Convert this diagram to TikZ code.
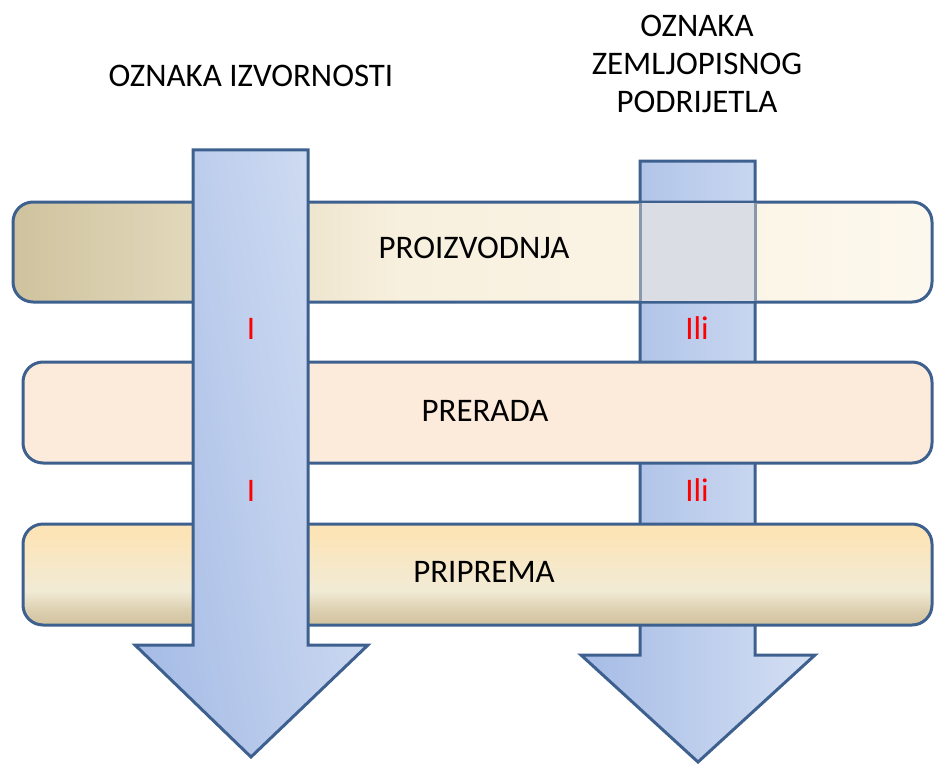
\documentclass[tikz,border=0pt]{standalone}
\usepackage{fontspec}
\setmainfont{Carlito}
\usetikzlibrary{calc}

\definecolor{rub}{RGB}{61,96,143}
\definecolor{arrA}{RGB}{166,188,230}
\definecolor{arrB}{RGB}{212,223,243}
\definecolor{proizA}{RGB}{207,194,158}
\definecolor{proizB}{RGB}{226,217,188}
\definecolor{proizC}{RGB}{248,240,222}
\definecolor{proizD}{RGB}{253,248,237}
\definecolor{prerFill}{RGB}{252,234,219}
\definecolor{pripTop}{RGB}{253,228,183}
\definecolor{pripMid}{RGB}{241,235,214}
\definecolor{pripLow}{RGB}{221,209,178}
\definecolor{pripBot}{RGB}{210,194,158}
\definecolor{preklop}{RGB}{218,221,227}
\definecolor{preklopLine}{RGB}{136,152,170}

\pgfdeclarehorizontalshading{proizshade}{100bp}{color(0bp)=(proizA); color(25bp)=(proizA); color(35bp)=(proizB); color(46bp)=(proizC); color(75bp)=(proizD); color(100bp)=(proizD)}
\pgfdeclareverticalshading{pripshade}{100bp}{color(0bp)=(pripBot); color(25bp)=(pripBot); color(33bp)=(pripLow); color(42bp)=(pripMid); color(55bp)=(pripMid!55!pripTop); color(70bp)=(pripTop); color(100bp)=(pripTop)}

\tikzset{
 barline/.style={draw=rub, line width=2.25pt, rounded corners=15},
 arrowbody/.style={draw=rub, line width=2.25pt, line join=miter, left color=arrA, right color=arrB},
 lbl/.style={font=\fontsize{24.7}{28.5}\selectfont, inner sep=0pt, anchor=base},
 ililbl/.style={lbl, text=red}
}

\begin{document}
\begin{tikzpicture}[x=0.75pt,y=-0.75pt]
\useasboundingbox (0,0) rectangle (934,763);
% desna strelica (ispod traka)
\shadedraw[arrowbody] (640,161)--(755,161)--(755,655)--(815,655)--(698,762)--(581,655)--(640,655)--cycle;
% trake
\shadedraw[barline, shading=proizshade] (13,202) rectangle (932,302);
\fill[preklop] (641.2,203.2) rectangle (753.8,300.8);
\draw[preklopLine, line width=2.25pt] (640,203.2)--(640,300.8) (755,203.2)--(755,300.8);
\filldraw[barline, fill=prerFill] (23,362) rectangle (932,463);
\shadedraw[barline, shading=pripshade] (23,524) rectangle (932,625);
% lijeva strelica (iznad traka)
\shadedraw[arrowbody, shading angle=100] (193,150)--(308,150)--(308,645)--(368,645)--(251,757)--(135,645)--(193,645)--cycle;
% natpisi
\node[lbl] (izv) at (251,87) {OZNAKA IZVORNOSTI};
\node[lbl, align=center] (zem) at (697,113) {OZNAKA\\ZEMLJOPISNOG\\PODRIJETLA};
\node[lbl] (proiz) at (474,258) {PROIZVODNJA};
\node[lbl] (prer) at (485,421) {PRERADA};
\node[lbl] (prip) at (484,582) {PRIPREMA};
\foreach \yy/\nn in {339/1,501/2} {
 \node[ililbl] (i\nn) at (251,\yy) {I};
 \node[ililbl] (ili\nn) at (697,\yy) {Ili};
}
\end{tikzpicture}
\end{document}
